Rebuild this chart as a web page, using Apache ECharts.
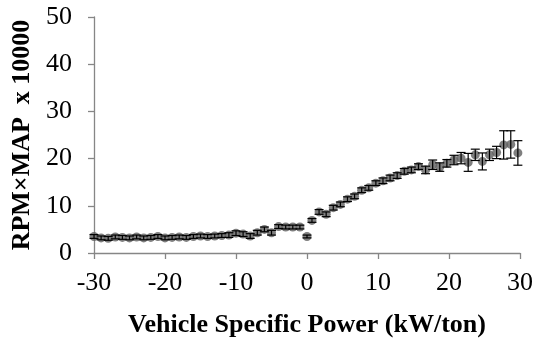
<!DOCTYPE html>
<html>
<head>
<meta charset="utf-8">
<script src="https://cdn.jsdelivr.net/npm/echarts@6/dist/echarts.min.js"></script>
<style>
  html, body { margin: 0; padding: 0; background: #fff; }
  #chart { width: 536px; height: 343px; }
</style>
</head>
<body>
<div id="chart"></div>
<script>
// Vehicle specific power bins (kW/ton)
const vsp = [
  -30, -29, -28, -27, -26, -25, -24, -23, -22, -21,
  -20, -19, -18, -17, -16, -15, -14, -13, -12, -11,
  -10, -9, -8, -7, -6, -5, -4, -3, -2, -1,
  0,
  0.7, 1.7, 2.7, 3.7, 4.7, 5.7, 6.7, 7.7, 8.7, 9.7,
  10.7, 11.7, 12.7, 13.7, 14.7, 15.7, 16.7, 17.7, 18.7, 19.7,
  20.7, 21.7, 22.7, 23.7, 24.7, 25.7, 26.7, 27.7, 28.7, 29.7
];

// Mean RPM x MAP (x 10000) in each bin
const rpmMap = [
  3.5, 3.2, 3.1, 3.4, 3.3, 3.2, 3.4, 3.2, 3.3, 3.5,
  3.2, 3.3, 3.4, 3.3, 3.5, 3.6, 3.5, 3.6, 3.7, 3.8,
  4.2, 4.0, 3.6, 4.3, 5.0, 4.3, 5.6, 5.5, 5.5, 5.5,
  3.5,
  6.9, 8.7, 8.2, 9.6, 10.3, 11.4, 12.0, 13.3, 13.8, 14.8,
  15.3, 15.9, 16.4, 17.3, 17.6, 18.3, 17.6, 18.7, 18.2, 19.0,
  19.7, 20.1, 19.2, 20.8, 19.4, 20.8, 21.3, 22.9, 23.0, 21.2
];

// Half-width of the error bar in each bin
const errHalf = [
  0.4, 0.4, 0.4, 0.4, 0.4, 0.4, 0.4, 0.4, 0.4, 0.4,
  0.4, 0.4, 0.4, 0.4, 0.4, 0.4, 0.4, 0.4, 0.4, 0.5,
  0.5, 0.5, 0.5, 0.5, 0.5, 0.5, 0.4, 0.4, 0.4, 0.4,
  0.3,
  0.4, 0.5, 0.5, 0.5, 0.5, 0.5, 0.5, 0.5, 0.5, 0.5,
  0.6, 0.6, 0.6, 0.6, 0.6, 0.6, 0.8, 1.0, 0.9, 0.8,
  1.0, 1.2, 1.9, 1.2, 1.8, 1.2, 1.3, 3.0, 2.9, 2.6
];

const xTicks = [-30, -20, -10, 0, 10, 20, 30];
const yTicks = [0, 10, 20, 30, 40, 50];

const points = vsp.map((x, i) => [x, rpmMap[i]]);
const bars = vsp.map((x, i) => [x, rpmMap[i] - errHalf[i], rpmMap[i] + errHalf[i]]);

const FONT = '"Liberation Serif", "Times New Roman", serif';
const AXIS_GRAY = '#868686';

const chart = echarts.init(document.getElementById('chart'), null, { renderer: 'canvas' });

chart.setOption({
  animation: false,
  backgroundColor: '#ffffff',
  grid: { left: 94, right: 15, top: 17, bottom: 88, containLabel: false },
  xAxis: {
    type: 'value',
    min: xTicks[0],
    max: xTicks[xTicks.length - 1],
    interval: 10,
    name: 'Vehicle Specific Power (kW/ton)',
    nameLocation: 'middle',
    nameGap: 59,
    nameTextStyle: { fontFamily: FONT, fontWeight: 'bold', fontSize: 26, color: '#000' },
    axisLine: { onZero: false, lineStyle: { color: AXIS_GRAY, width: 1.3 } },
    axisTick: { show: true, inside: false, length: 6, lineStyle: { color: AXIS_GRAY, width: 1.3 } },
    axisLabel: { fontFamily: FONT, fontSize: 26, color: '#000', margin: 17 },
    splitLine: { show: false }
  },
  yAxis: {
    type: 'value',
    min: yTicks[0],
    max: yTicks[yTicks.length - 1],
    interval: 10,
    name: 'RPM×MAP  x 10000',
    nameLocation: 'middle',
    nameGap: 59,
    nameRotate: 90,
    nameTextStyle: { fontFamily: FONT, fontWeight: 'bold', fontSize: 26, color: '#000' },
    axisLine: { show: true, onZero: false, lineStyle: { color: AXIS_GRAY, width: 1.3 } },
    axisTick: { show: true, inside: false, length: 6, lineStyle: { color: AXIS_GRAY, width: 1.3 } },
    axisLabel: { fontFamily: FONT, fontSize: 26, color: '#000', margin: 22 },
    splitLine: { show: false }
  },
  series: [
    {
      type: 'scatter',
      data: points,
      symbol: 'circle',
      symbolSize: 9,
      itemStyle: { color: '#5f5f5f' },
      z: 2
    },
    {
      type: 'custom',
      data: bars,
      z: 3,
      renderItem: function (params, api) {
        const x = api.value(0);
        const lo = api.coord([x, api.value(1)]);
        const hi = api.coord([x, api.value(2)]);
        const cap = 4.5;
        const style = { stroke: '#000', lineWidth: 1.2, fill: null };
        return {
          type: 'group',
          children: [
            { type: 'line', shape: { x1: lo[0], y1: lo[1], x2: hi[0], y2: hi[1] }, style: style },
            { type: 'line', shape: { x1: hi[0] - cap, y1: hi[1], x2: hi[0] + cap, y2: hi[1] }, style: style },
            { type: 'line', shape: { x1: lo[0] - cap, y1: lo[1], x2: lo[0] + cap, y2: lo[1] }, style: style }
          ]
        };
      }
    }
  ]
});
</script>
</body>
</html>
